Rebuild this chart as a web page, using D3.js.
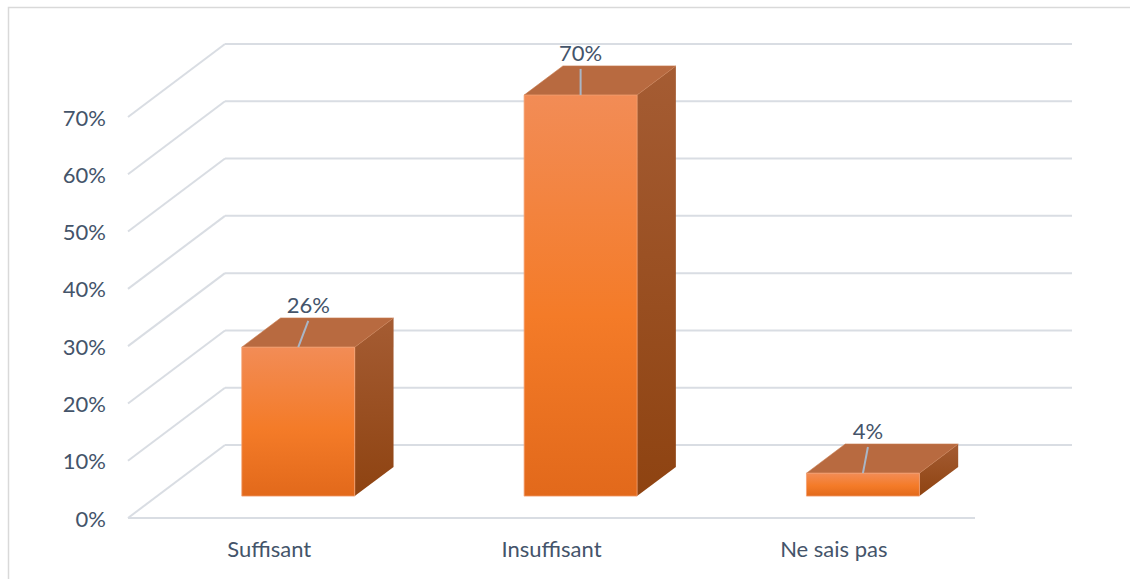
<!DOCTYPE html>
<html>
<head>
<meta charset="utf-8">
<script src="https://cdn.jsdelivr.net/npm/d3@7"></script>
<style>
  html, body { margin: 0; padding: 0; background: #fff; }
  svg { display: block; }
  text { font-family: Lato, "Open Sans", sans-serif; fill: #44546A; }
</style>
</head>
<body>
<svg id="chart" width="1130" height="579"></svg>
<script>
// ---- data ----
const categories = ["Suffisant", "Insuffisant", "Ne sais pas"];
const values = [0.26, 0.70, 0.04];
const valueLabels = ["26%", "70%", "4%"];
const tickValues = [0, 0.1, 0.2, 0.3, 0.4, 0.5, 0.6, 0.7];
const tickLabels = ["0%", "10%", "20%", "30%", "40%", "50%", "60%", "70%"];
const labelNudge = [10, 0, 5];

// ---- layout ----
const svg = d3.select("#chart");
const floorLeft = 128, floorRight = 975, floorY = 518;
const depthDX = 97, depthDY = -73;       // full depth of the 3D box
const plotH = 401;                       // pixel height of 0..70%
const barDepth0 = 0.3, barDepth1 = 0.7;  // bar occupies this depth range
const barFrac0 = 0.3, barFrac1 = 0.7;    // bar occupies this part of its band

const x = d3.scaleBand().domain(categories).range([floorLeft, floorRight]).padding(0);
const y = d3.scaleLinear().domain([0, 0.7]).range([0, plotH]);
// projected point: category x, value v, depth d in [0,1]
const P = (px, v, d) => [px + d * depthDX, floorY + d * depthDY - y(v)];

const gridColor = "#D9DDE3";

// outer border (top + left visible)
svg.append("rect").attr("x", 8.5).attr("y", 7.5).attr("width", 1140).attr("height", 600)
  .attr("fill", "none").attr("stroke", "#D9D9D9").attr("stroke-width", 1.5);

// defs
const defs = svg.append("defs");
const gFront = defs.append("linearGradient").attr("id", "gFront").attr("x1", 0).attr("y1", 0).attr("x2", 0).attr("y2", 1);
gFront.append("stop").attr("offset", "0%").attr("stop-color", "#F28C56");
gFront.append("stop").attr("offset", "55%").attr("stop-color", "#F47B28");
gFront.append("stop").attr("offset", "100%").attr("stop-color", "#E2691B");
const gSide = defs.append("linearGradient").attr("id", "gSide").attr("x1", 0).attr("y1", 0).attr("x2", 0).attr("y2", 1);
gSide.append("stop").attr("offset", "0%").attr("stop-color", "#A55C33");
gSide.append("stop").attr("offset", "100%").attr("stop-color", "#8E4311");

// back wall gridlines and side-wall diagonals
const grid = svg.append("g");
tickValues.forEach(v => {
  const a = P(floorLeft, v, 1), b = P(floorRight, v, 1);
  grid.append("line").attr("x1", a[0]).attr("y1", a[1]).attr("x2", b[0]).attr("y2", b[1])
    .attr("stroke", gridColor).attr("stroke-width", 2);
  const c = P(floorLeft, v, 0);
  grid.append("line").attr("x1", c[0]).attr("y1", c[1]).attr("x2", a[0]).attr("y2", a[1])
    .attr("stroke", gridColor).attr("stroke-width", 2);
});
// floor front edge
{
  const a = P(floorLeft, 0, 0), b = P(floorRight, 0, 0);
  grid.append("line").attr("x1", a[0]).attr("y1", a[1]).attr("x2", b[0]).attr("y2", b[1])
    .attr("stroke", gridColor).attr("stroke-width", 2);
}

// y tick labels
svg.append("g").selectAll("text").data(tickValues).join("text")
  .attr("x", 106).attr("y", d => P(floorLeft, d, 0)[1])
  .attr("text-anchor", "end").attr("dominant-baseline", "central")
  .attr("font-size", 22).text((d, i) => tickLabels[i]);

// category labels
svg.append("g").selectAll("text").data(categories).join("text")
  .attr("x", d => x(d) + x.bandwidth() / 2).attr("y", 548)
  .attr("text-anchor", "middle").attr("dominant-baseline", "central")
  .attr("font-size", 22).text(d => d);

// bars
const bars = svg.append("g");
const pts = arr => arr.map(p => p.join(",")).join(" ");
categories.forEach((c, i) => {
  const v = values[i];
  const x0 = x(c) + barFrac0 * x.bandwidth(), x1 = x(c) + barFrac1 * x.bandwidth();
  const fbl = P(x0, 0, barDepth0), fbr = P(x1, 0, barDepth0);
  const ftl = P(x0, v, barDepth0), ftr = P(x1, v, barDepth0);
  const bbr = P(x1, 0, barDepth1), btl = P(x0, v, barDepth1), btr = P(x1, v, barDepth1);
  // side
  bars.append("polygon").attr("points", pts([fbr, ftr, btr, bbr])).attr("fill", "url(#gSide)");
  // top
  bars.append("polygon").attr("points", pts([ftl, ftr, btr, btl])).attr("fill", "#B86A40")
    .attr("stroke", "#C77A4E").attr("stroke-width", 0.6);
  // front
  bars.append("polygon").attr("points", pts([fbl, fbr, ftr, ftl])).attr("fill", "url(#gFront)")
    .attr("stroke", "#F4A070").attr("stroke-width", 0.8);

  // data label + leader line
  const fc = (ftl[0] + ftr[0]) / 2;
  const lx = fc + labelNudge[i];
  const ly = btl[1] - 13;
  bars.append("line").attr("x1", fc).attr("y1", ftl[1]).attr("x2", lx).attr("y2", ly + 16)
    .attr("stroke", "#A9B6C6").attr("stroke-width", 2);
  bars.append("text").attr("x", lx).attr("y", ly).attr("text-anchor", "middle")
    .attr("dominant-baseline", "central").attr("font-size", 22).text(valueLabels[i]);
});
</script>
</body>
</html>
